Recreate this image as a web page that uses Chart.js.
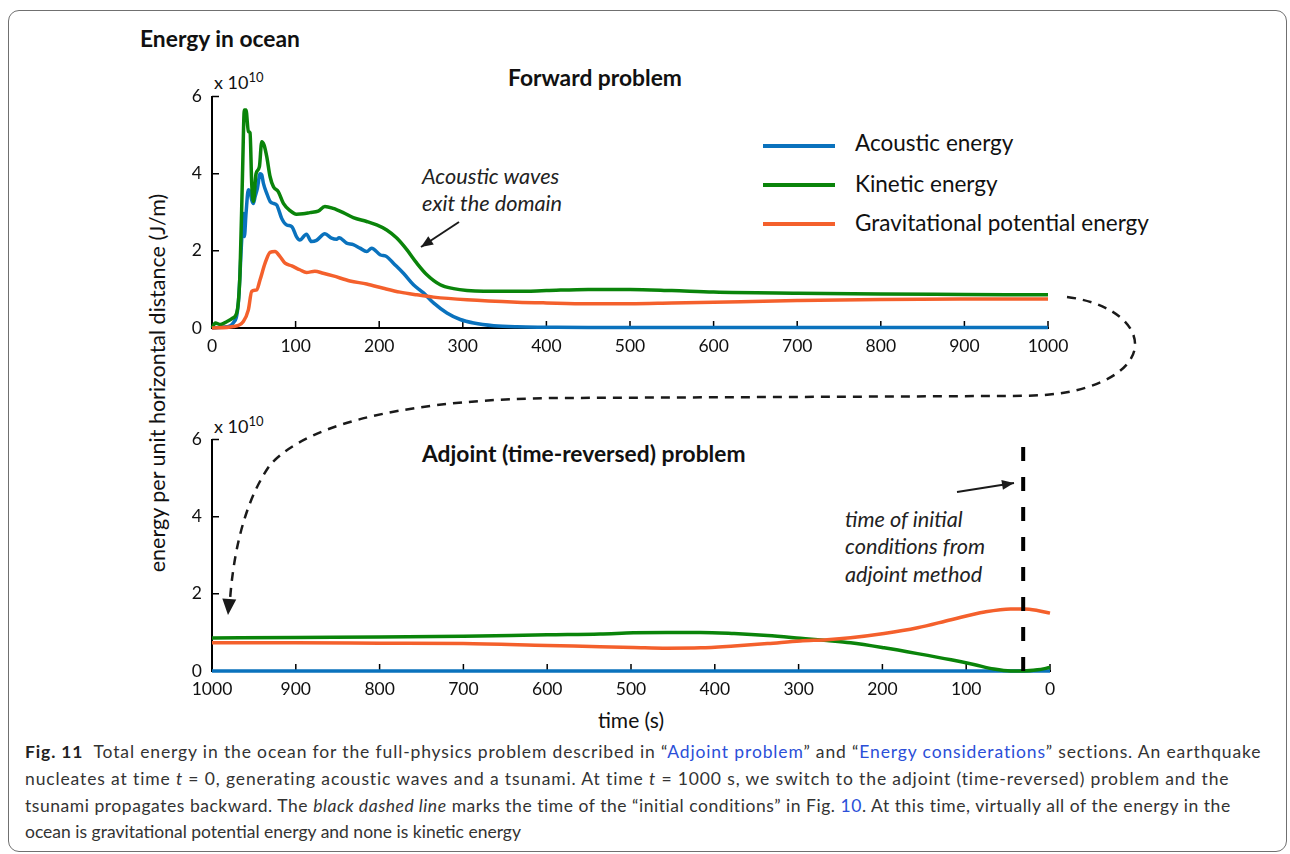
<!DOCTYPE html>
<html>
<head>
<meta charset="utf-8">
<title>Energy in ocean</title>
<script src="https://cdn.jsdelivr.net/npm/chart.js@4.4.1/dist/chart.umd.min.js"></script>
<style>
html, body { margin: 0; padding: 0; background: #fff; }
body { width: 1290px; height: 854px; position: relative; overflow: hidden; font-family: Lato, "Open Sans", sans-serif; color: #111; }
.t { position: absolute; white-space: nowrap; line-height: 26px; }
.b { font-weight: bold; font-size: 22.8px; }
.i { font-style: italic; font-size: 21.7px; color: #222; }
.frame { position: absolute; left: 8px; top: 10px; width: 1279px; height: 842px; border: 1.5px solid #707070; border-radius: 11px; box-sizing: border-box; }
canvas.plot { position: absolute; }
#overlay { position: absolute; left: 0; top: 0; z-index: 5; pointer-events: none; }
.legline { position: absolute; width: 72px; height: 4px; }
.leg { font-size: 22.5px; }
.cap { position: absolute; left: 25px; white-space: nowrap; font-size: 17.5px; line-height: 27px; color: #333; }
.cap a { color: #2b4fd8; text-decoration: none; }
sup { font-size: 13px; }
</style>
</head>
<body>
<div class="frame"></div>

<div class="t b" style="left:140px; top:25px;">Energy in ocean</div>
<div class="t b" style="left:508px; top:64px;">Forward problem</div>
<div class="t b" style="left:422px; top:440px;">Adjoint (time-reversed) problem</div>
<div class="t" style="left:214px; top:64px; font-size:18px;">x 10<sup>10</sup></div>
<div class="t" style="left:214px; top:408px; font-size:18px;">x 10<sup>10</sup></div>

<div class="t i" style="left:422px; top:163px;">Acoustic waves</div>
<div class="t i" style="left:422px; top:190px;">exit the domain</div>
<div class="t i" style="left:845px; top:506px;">time of initial</div>
<div class="t i" style="left:845px; top:533px;">conditions from</div>
<div class="t i" style="left:845px; top:561px;">adjoint method</div>

<div class="legline" style="left:763px; top:144px; background:#0a72bd;"></div>
<div class="legline" style="left:763px; top:183px; background:#0a840a;"></div>
<div class="legline" style="left:763px; top:222px; background:#f4602c;"></div>
<div class="t leg" style="left:855px; top:130px;">Acoustic energy</div>
<div class="t leg" style="left:855px; top:171px;">Kinetic energy</div>
<div class="t leg" style="left:855px; top:210px;">Gravitational potential energy</div>

<div class="t" style="left:157px; top:383px; font-size:21.5px; transform: translate(-50%, -50%) rotate(-90deg);">energy per unit horizontal distance (J/m)</div>
<div class="t" style="left:631px; top:707px; font-size:21px; transform: translateX(-50%);">time (s)</div>

<canvas class="plot" id="fwdChart" style="left:140px; top:76px;" width="940" height="290"></canvas>
<canvas class="plot" id="adjChart" style="left:140px; top:419px;" width="942" height="290"></canvas>
<canvas id="overlay" width="1290" height="854"></canvas>

<div class="cap" data-w="1237" style="top:738px;"><b style="color:#222;">Fig. 11</b>&nbsp; Total energy in the ocean for the full-physics problem described in “<a>Adjoint problem</a>” and “<a>Energy considerations</a>” sections. An earthquake</div>
<div class="cap" data-w="1206" style="top:765px;">nucleates at time <i>t</i> = 0, generating acoustic waves and a tsunami. At time <i>t</i> = 1000 s, we switch to the adjoint (time-reversed) problem and the</div>
<div class="cap" data-w="1207" style="top:792px;">tsunami propagates backward. The <i>black dashed line</i> marks the time of the “initial conditions” in Fig. <a>10</a>. At this time, virtually all of the energy in the</div>
<div class="cap" style="top:818px;">ocean is gravitational potential energy and none is kinetic energy</div>

<script>
// ---- data (energy in units of 1e10 J/m, time in s) ----
const timeTicks = [0, 100, 200, 300, 400, 500, 600, 700, 800, 900, 1000];
const energyTicks = [0, 2, 4, 6];

// forward problem
const fwdAcousticT = [0, 17.6, 25.5, 31.5, 35.5, 37.5, 38.7, 40.7, 43.5, 45.5, 47.5, 49.5, 51.5, 54.3, 57.5, 59.5, 61.5, 65.5, 69.5, 73.5, 77.4, 83.4, 89.4, 95.4, 101, 105, 113, 119, 125, 135, 143, 149, 152, 161, 169, 177, 185, 191, 201, 209, 217, 229, 241, 253, 265, 281, 297, 313, 337, 365, 400, 450, 500, 600, 700, 800, 900, 1000];
const fwdAcousticE = [0, 0.03, 0.13, 0.65, 2.28, 2.97, 2.37, 2.97, 3.58, 3.53, 3.32, 3.23, 3.4, 3.62, 4.0, 3.97, 3.75, 3.49, 3.28, 3.23, 3.19, 2.84, 2.67, 2.63, 2.37, 2.28, 2.43, 2.24, 2.27, 2.44, 2.33, 2.30, 2.34, 2.2, 2.16, 2.07, 1.98, 2.07, 1.90, 1.85, 1.68, 1.42, 1.12, 0.91, 0.65, 0.39, 0.22, 0.13, 0.06, 0.03, 0.02, 0.01, 0.01, 0.01, 0.01, 0.01, 0.01, 0.01];

const fwdKineticT = [0, 4, 10, 18, 25, 30, 33.5, 36.5, 38.7, 40.7, 43.5, 45.5, 47.5, 49.5, 52.7, 56.7, 59.5, 62.3, 65.5, 69.5, 73.5, 79.4, 85.4, 93.4, 101, 109, 117, 127, 135, 145, 157, 169, 185, 197, 209, 221, 233, 245, 257, 273, 289, 305, 325, 365, 400, 450, 500, 550, 600, 700, 800, 900, 1000];
const fwdKineticE = [0, 0.13, 0.09, 0.17, 0.26, 0.43, 1.42, 4.0, 5.65, 5.65, 5.09, 5.06, 3.75, 3.28, 4.0, 4.18, 4.83, 4.74, 4.44, 3.92, 3.66, 3.53, 3.23, 3.04, 2.95, 2.96, 2.99, 3.03, 3.15, 3.10, 2.99, 2.86, 2.76, 2.67, 2.54, 2.33, 2.03, 1.68, 1.38, 1.12, 1.02, 0.97, 0.95, 0.95, 0.97, 1.0, 1.0, 0.97, 0.93, 0.90, 0.88, 0.87, 0.86];

const fwdGravT = [0, 25.5, 37.5, 43.5, 47.5, 53.5, 57.5, 63.5, 69.5, 75.4, 81.4, 87.4, 95.4, 105, 113, 123, 133, 145, 165, 185, 205, 225, 245, 265, 305, 365, 400, 450, 500, 550, 600, 700, 800, 900, 1000];
const fwdGravE = [0, 0.04, 0.17, 0.47, 0.95, 0.99, 1.25, 1.68, 1.96, 1.98, 1.85, 1.68, 1.61, 1.51, 1.44, 1.47, 1.42, 1.35, 1.22, 1.14, 1.03, 0.93, 0.86, 0.80, 0.73, 0.67, 0.65, 0.63, 0.63, 0.65, 0.67, 0.71, 0.74, 0.75, 0.75];

// adjoint (time-reversed) problem, time axis runs 1000 -> 0
const adjAcousticT = [1000, 0];
const adjAcousticE = [0, 0];

const adjKineticT = [1000, 900, 800, 700, 600, 537, 497, 457, 417, 377, 337, 298, 266, 238, 198, 158, 118, 91, 67, 47, 31, 15, 0];
const adjKineticE = [0.855, 0.87, 0.88, 0.90, 0.94, 0.96, 0.99, 1.0, 1.0, 0.97, 0.92, 0.85, 0.79, 0.73, 0.60, 0.45, 0.29, 0.17, 0.05, 0.0, 0.0, 0.03, 0.09];

const adjGravT = [1000, 900, 800, 700, 600, 537, 497, 457, 417, 377, 337, 298, 266, 238, 198, 158, 118, 78, 47, 31, 15, 0];
const adjGravE = [0.73, 0.73, 0.72, 0.71, 0.66, 0.63, 0.61, 0.59, 0.60, 0.65, 0.71, 0.78, 0.81, 0.86, 0.97, 1.12, 1.33, 1.53, 1.61, 1.61, 1.57, 1.50];

// time of the "initial conditions" found by the adjoint method
const initTime = 32;
const initLineTop = 5.85;

const BLUE = '#0a72bd', GREEN = '#0a840a', ORANGE = '#f4602c';
const FONT = 'Lato, "Open Sans", sans-serif';

function pts(t, e) {
    return t.map((x, i) => ({ x: x, y: e[i] }));
}

function line(data, color, order) {
    return {
        data: data,
        borderColor: color,
        borderWidth: 3.5,
        pointRadius: 0,
        cubicInterpolationMode: 'monotone',
        clip: false,
        order: order
    };
}

// ticks pointing into the plot area, like the original figure
const inwardTicks = {
    id: 'inwardTicks',
    beforeDatasetsDraw(chart) {
        const ctx = chart.ctx;
        const xs = chart.scales.x, ys = chart.scales.y;
        const area = chart.chartArea;
        ctx.save();
        ctx.strokeStyle = '#000';
        ctx.lineWidth = 1.5;
        ctx.beginPath();
        xs.ticks.forEach(tk => {
            const px = xs.getPixelForValue(tk.value);
            ctx.moveTo(px, area.bottom);
            ctx.lineTo(px, area.bottom - 7);
        });
        ys.ticks.forEach(tk => {
            const py = ys.getPixelForValue(tk.value);
            ctx.moveTo(area.left, py);
            ctx.lineTo(area.left + 7, py);
        });
        ctx.stroke();
        ctx.restore();
    }
};

function makeOptions(reverse) {
    return {
        animation: false,
        responsive: false,
        layout: { padding: { top: 12, right: 32, left: 0, bottom: 0 }, autoPadding: false },
        plugins: { legend: { display: false }, tooltip: { enabled: false } },
        scales: {
            x: {
                type: 'linear',
                min: 0,
                max: 1000,
                reverse: reverse,
                afterBuildTicks: s => { s.ticks = timeTicks.map(v => ({ value: v })); },
                afterFit: s => { s.height = 38; },
                grid: { display: true, drawOnChartArea: false, drawTicks: false },
                border: { display: true, color: '#000', width: 2 },
                ticks: { padding: 8, color: '#111', font: { family: FONT, size: 17.5 }, maxRotation: 0, callback: v => String(v) }
            },
            y: {
                min: 0,
                max: 6,
                afterBuildTicks: s => { s.ticks = energyTicks.map(v => ({ value: v })); },
                afterFit: s => { s.width = 72; },
                grid: { display: true, drawOnChartArea: false, drawTicks: false },
                border: { display: true, color: '#000', width: 2 },
                ticks: { padding: 10, color: '#111', font: { family: FONT, size: 17.5 }, callback: v => String(v) }
            }
        }
    };
}

new Chart(document.getElementById('fwdChart'), {
    type: 'line',
    data: {
        datasets: [
            line(pts(fwdAcousticT, fwdAcousticE), BLUE, 3),
            line(pts(fwdKineticT, fwdKineticE), GREEN, 2),
            line(pts(fwdGravT, fwdGravE), ORANGE, 1)
        ]
    },
    options: makeOptions(false),
    plugins: [inwardTicks]
});

const initLine = {
    data: [{ x: initTime, y: 0 }, { x: initTime, y: initLineTop }],
    borderColor: '#000',
    borderWidth: 4,
    borderDash: [14, 16],
    pointRadius: 0,
    clip: false,
    order: 0
};

new Chart(document.getElementById('adjChart'), {
    type: 'line',
    data: {
        datasets: [
            line(pts(adjAcousticT, adjAcousticE), BLUE, 3),
            line(pts(adjKineticT, adjKineticE), GREEN, 2),
            line(pts(adjGravT, adjGravE), ORANGE, 1),
            initLine
        ]
    },
    options: makeOptions(true),
    plugins: [inwardTicks]
});

// ---- arrows and the dashed connector between the two panels ----
function arrowHead(ctx, x1, y1, x2, y2, len, half) {
    const a = Math.atan2(y2 - y1, x2 - x1);
    ctx.beginPath();
    ctx.moveTo(x2, y2);
    ctx.lineTo(x2 - len * Math.cos(a) + half * Math.sin(a), y2 - len * Math.sin(a) - half * Math.cos(a));
    ctx.lineTo(x2 - len * Math.cos(a) - half * Math.sin(a), y2 - len * Math.sin(a) + half * Math.cos(a));
    ctx.closePath();
    ctx.fill();
}

function arrow(ctx, x1, y1, x2, y2) {
    ctx.beginPath();
    ctx.moveTo(x1, y1);
    ctx.lineTo(x2, y2);
    ctx.stroke();
    arrowHead(ctx, x1, y1, x2, y2, 12, 5);
}

const ov = document.getElementById('overlay').getContext('2d');
ov.strokeStyle = '#1a1a1a';
ov.fillStyle = '#1a1a1a';
ov.lineWidth = 2;
arrow(ov, 459, 222, 421, 247);
arrow(ov, 957, 492, 1014, 483);

ov.lineWidth = 2.5;
ov.setLineDash([9, 7]);
ov.beginPath();
ov.moveTo(1067, 297);
ov.bezierCurveTo(1140, 306, 1165, 362, 1088, 387);
ov.bezierCurveTo(1062, 396, 1030, 396, 1000, 396);
ov.lineTo(560, 398);
ov.bezierCurveTo(420, 399, 310, 420, 270, 465);
ov.bezierCurveTo(242, 505, 233, 560, 230, 600);
ov.stroke();
ov.setLineDash([]);
arrowHead(ov, 230, 590, 228, 615, 16, 7);

// fit caption lines to the original line widths
document.querySelectorAll('.cap[data-w]').forEach(el => {
    const target = +el.dataset.w;
    const w = el.getBoundingClientRect().width;
    const n = el.textContent.length;
    el.style.letterSpacing = ((target - w) / n).toFixed(3) + 'px';
});
</script>
</body>
</html>
